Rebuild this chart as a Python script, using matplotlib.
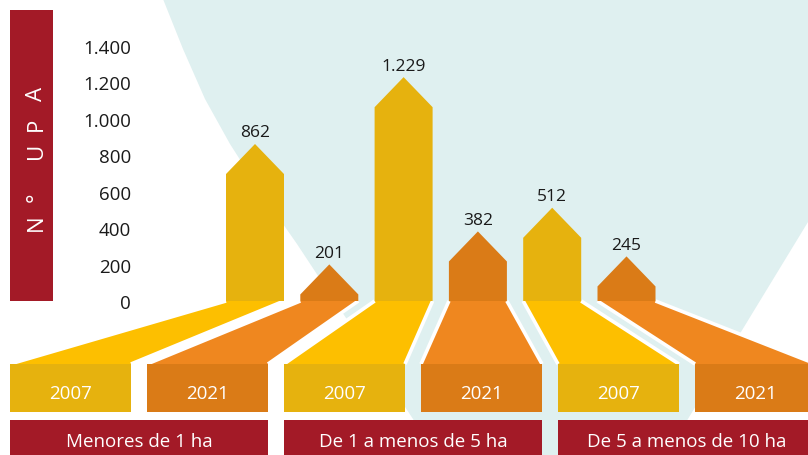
import matplotlib.pyplot as plt
from matplotlib.patches import Polygon, Rectangle
from matplotlib.ticker import FuncFormatter

categories = ["Menores de 1 ha", "De 1 a menos de 5 ha", "De 5 a menos de 10 ha"]
years = ["2007", "2021"]
upa_2007 = [862, 1229, 512]
upa_2021 = [201, 382, 245]
y_ticks = [0, 200, 400, 600, 800, 1000, 1200, 1400]

plt.rcParams['font.family'] = ['Open Sans', 'DejaVu Sans']

W, H = 808, 456
BASE, TOP = 302, 47          # pixel rows of 0 and 1400
BOX_TOP, BOX_BOT = 365, 413
CAT_TOP = 421

bar_col = {"2007": "#e6b20e", "2021": "#da7b17"}
fun_col = {"2007": "#fdbf00", "2021": "#ef871f"}
red = "#a31a27"

fig = plt.figure(figsize=(W / 100, H / 100), dpi=100)

# background layer in pixel coordinates
bg = fig.add_axes([0, 0, 1, 1])
bg.set_xlim(0, W)
bg.set_ylim(H, 0)
bg.axis("off")

backdrop = [(163, 0), (808, 0), (808, 223), (666, 456), (437, 456),
            (413, 420), (370, 355), (330, 295), (297, 245), (262, 195),
            (230, 145), (205, 100), (183, 50)]
bg.add_patch(Polygon(backdrop, closed=True, facecolor="#dff0f0", lw=0, zorder=0))

# vertical axis title
bg.add_patch(Rectangle((10, 11), 43, BASE - 11, facecolor=red, lw=0))
for ch, yc in zip("N°UPA", [223, 197, 151, 124, 94]):
    bg.text(42, yc, ch, rotation=90, rotation_mode="anchor", ha="center",
            va="baseline", color="white", fontsize=16)

# interleave series: 2007, 2021 for each category
values, labels = [], []
for a, b in zip(upa_2007, upa_2021):
    values += [a, b]
    labels += years

step = 74.3
x0 = 255
half = 29

for i, yr in enumerate(labels):
    bl, br = x0 + step * i - half, x0 + step * i + half
    box_l = 10 + 137 * i
    box_r = box_l + 121
    bg.add_patch(Polygon([(bl, BASE), (br, BASE), (box_r, BOX_TOP), (box_l, BOX_TOP)],
                         closed=True, facecolor=fun_col[yr], lw=0, zorder=2))
    for xa, xb in [(bl, box_l), (br, box_r)]:
        bg.plot([xa, xb], [BASE, BOX_TOP], color="white", lw=2.6,
                solid_capstyle="butt", zorder=3)
    bg.add_patch(Rectangle((box_l, BOX_TOP), 121, BOX_BOT - BOX_TOP,
                           facecolor=bar_col[yr], lw=0, zorder=4))
    bg.text((box_l + box_r) / 2, 399, yr, ha="center", va="baseline",
            color="white", fontsize=13.5, zorder=5)

for j, cat in enumerate(categories):
    left = 10 + 274 * j
    bg.add_patch(Rectangle((left, CAT_TOP), 258, H - CAT_TOP + 5,
                           facecolor=red, lw=0, zorder=4))
    bg.text(left + 129, 447, cat, ha="center", va="baseline",
            color="white", fontsize=13.5, zorder=5)

# data axes for the arrow bars
ax = fig.add_axes([138 / W, (H - BASE) / H, (W - 138) / W, (BASE - TOP) / H])
ax.set_xlim((138 - x0) / step, (W - x0) / step)
ax.set_ylim(0, 1400)
ax.patch.set_visible(False)
for s in ax.spines.values():
    s.set_visible(False)

hw = half / step
tip = 165
for i, (v, yr) in enumerate(zip(values, labels)):
    shoulder = max(v - tip, 0)
    ax.add_patch(Polygon([(i - hw, 0), (i + hw, 0), (i + hw, shoulder),
                          (i, v), (i - hw, shoulder)],
                         closed=True, facecolor=bar_col[yr], lw=0))
    ax.annotate(f"{v:,}".replace(",", "."), (i, v), xytext=(0, 5.5),
                textcoords="offset points", ha="center", va="baseline",
                fontsize=12.5, color="#1a1a1a", annotation_clip=False)

ax.set_xticks([])
ax.set_yticks(y_ticks)
ax.yaxis.set_major_formatter(FuncFormatter(lambda v, p: f"{int(v):,}".replace(",", ".")))
ax.tick_params(axis="y", length=0, pad=5, labelsize=13.5, labelcolor="#1a1a1a")

fig.savefig("out.png", dpi=100)
